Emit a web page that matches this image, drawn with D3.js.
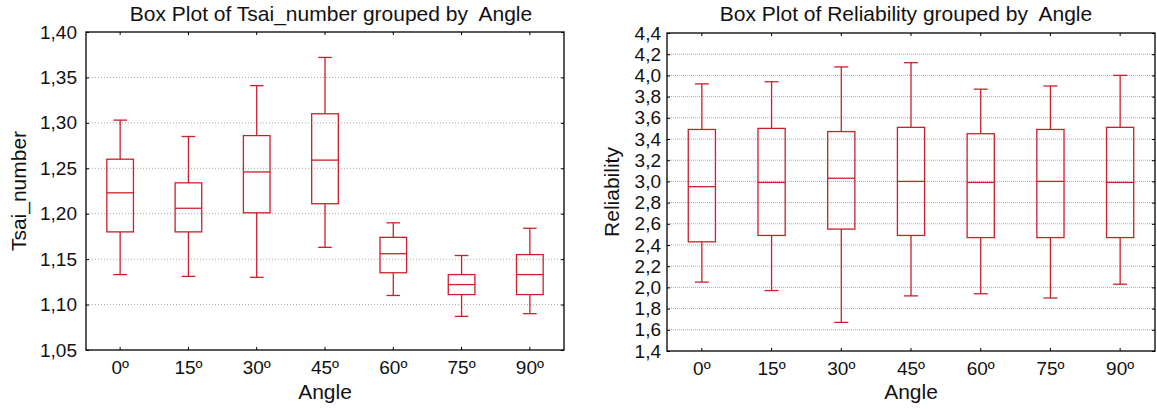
<!DOCTYPE html>
<html lang="en">
<head>
<meta charset="UTF-8">
<title>Box Plots by Angle</title>
<script src="https://cdnjs.cloudflare.com/ajax/libs/d3/7.8.5/d3.min.js"></script>
<style>
  body { margin: 0; background: #fff; font-family: "Liberation Sans", Arial, sans-serif; }
  svg text { fill: #111; white-space: pre; }
  .grid line { stroke: #a8a8a8; stroke-width: 1; }
  .frame { fill: none; stroke: #000; stroke-width: 1.3; }
  .box { fill: none; stroke: #cc1f2a; stroke-width: 1.3; }
</style>
</head>
<body>
<svg id="chart" width="1157" height="409"></svg>
<script>
// categories
const angles = ["0º", "15º", "30º", "45º", "60º", "75º", "90º"];

// Tsai_number: min, Q1, median, Q3, max per angle
const tsaiMin = [1.133, 1.131, 1.130, 1.163, 1.110, 1.087, 1.090];
const tsaiQ1  = [1.180, 1.180, 1.201, 1.211, 1.135, 1.111, 1.111];
const tsaiMed = [1.223, 1.206, 1.246, 1.259, 1.156, 1.122, 1.133];
const tsaiQ3  = [1.260, 1.234, 1.286, 1.310, 1.174, 1.133, 1.155];
const tsaiMax = [1.303, 1.285, 1.341, 1.372, 1.190, 1.154, 1.184];
const tsaiTicks = [1.05, 1.10, 1.15, 1.20, 1.25, 1.30, 1.35, 1.40];

// Reliability
const relMin = [2.05, 1.97, 1.67, 1.92, 1.94, 1.90, 2.03];
const relQ1  = [2.43, 2.49, 2.55, 2.49, 2.47, 2.47, 2.47];
const relMed = [2.95, 2.99, 3.03, 3.00, 2.99, 3.00, 2.99];
const relQ3  = [3.49, 3.50, 3.47, 3.51, 3.45, 3.49, 3.51];
const relMax = [3.92, 3.94, 4.08, 4.12, 3.87, 3.90, 4.00];
const relTicks = [1.4, 1.6, 1.8, 2.0, 2.2, 2.4, 2.6, 2.8, 3.0, 3.2, 3.4, 3.6, 3.8, 4.0, 4.2, 4.4];

const locale = d3.formatLocale({ decimal: ",", thousands: ".", grouping: [3], currency: ["", ""] });
const svg = d3.select("#chart");
const FONT = "Liberation Sans, Arial, sans-serif";

function boxPlot(opt) {
  const x = d3.scaleBand().domain(angles).range([opt.left, opt.right]).padding(0);
  const y = d3.scaleLinear().domain(opt.domain).range([opt.bottom, opt.top]);
  const fmt = locale.format(opt.fmt);
  const g = svg.append("g");

  // horizontal grid lines
  g.append("g").attr("class", "grid")
    .selectAll("line")
    .data(opt.ticks.slice(1, -1))
    .join("line")
    .attr("x1", opt.left).attr("x2", opt.right)
    .attr("y1", d => y(d)).attr("y2", d => y(d))
    .attr("stroke", opt.gridColor)
    .attr("stroke-dasharray", opt.dash);

  // axes with inward ticks
  g.append("g").attr("transform", `translate(${opt.left},0)`)
    .call(d3.axisLeft(y).tickValues(opt.ticks).tickFormat(fmt).tickSizeInner(-3).tickSizeOuter(0).tickPadding(opt.pad))
    .call(a => a.select(".domain").remove())
    .call(a => a.selectAll("text").style("font-size", "19px").style("font-family", FONT).attr("fill", "#111"));
  g.append("g").attr("transform", `translate(${opt.right},0)`)
    .call(d3.axisRight(y).tickValues(opt.ticks).tickSizeInner(-3).tickSizeOuter(0).tickFormat(""))
    .call(a => a.select(".domain").remove());
  g.append("g").attr("transform", `translate(0,${opt.bottom})`)
    .call(d3.axisBottom(x).tickSizeInner(-3).tickSizeOuter(0).tickPadding(11))
    .call(a => a.select(".domain").remove())
    .call(a => a.selectAll("text").style("font-size", "19px").style("font-family", FONT).attr("fill", "#111"));
  g.append("g").attr("transform", `translate(0,${opt.top})`)
    .call(d3.axisTop(x).tickSizeInner(-3).tickSizeOuter(0).tickFormat(""))
    .call(a => a.select(".domain").remove());

  g.append("rect").attr("class", "frame")
    .attr("x", opt.left).attr("y", opt.top)
    .attr("width", opt.right - opt.left).attr("height", opt.bottom - opt.top);

  // boxes
  const data = angles.map((a, i) => ({
    a, min: opt.min[i], q1: opt.q1[i], med: opt.med[i], q3: opt.q3[i], max: opt.max[i]
  }));
  const bw = x.bandwidth() * 0.39;
  const cw = x.bandwidth() * 0.2;
  const b = g.append("g").attr("class", "box")
    .selectAll("g").data(data).join("g")
    .attr("transform", d => `translate(${x(d.a) + x.bandwidth() / 2},0)`);
  b.append("line").attr("x1", 0).attr("x2", 0).attr("y1", d => y(d.max)).attr("y2", d => y(d.q3));
  b.append("line").attr("x1", 0).attr("x2", 0).attr("y1", d => y(d.q1)).attr("y2", d => y(d.min));
  b.append("line").attr("x1", -cw / 2).attr("x2", cw / 2).attr("y1", d => y(d.max)).attr("y2", d => y(d.max));
  b.append("line").attr("x1", -cw / 2).attr("x2", cw / 2).attr("y1", d => y(d.min)).attr("y2", d => y(d.min));
  b.append("rect").attr("x", -bw / 2).attr("width", bw)
    .attr("y", d => y(d.q3)).attr("height", d => y(d.q1) - y(d.q3));
  b.append("line").attr("x1", -bw / 2).attr("x2", bw / 2).attr("y1", d => y(d.med)).attr("y2", d => y(d.med));

  // titles
  const cx = (opt.left + opt.right) / 2;
  svg.append("text").attr("x", cx + opt.titleDx).attr("y", 21).attr("text-anchor", "middle")
    .style("font-size", "21px").text(opt.title);
  svg.append("text").attr("x", cx).attr("y", 399).attr("text-anchor", "middle")
    .style("font-size", "21px").text("Angle");
  svg.append("text").attr("transform", `translate(${opt.ylabX},${(opt.top + opt.bottom) / 2}) rotate(-90)`)
    .attr("text-anchor", "middle").style("font-size", "21px").text(opt.ylab);
}

boxPlot({
  left: 86, right: 564, top: 32, bottom: 350, pad: 9, titleDx: 6,
  domain: [1.05, 1.40], ticks: tsaiTicks, fmt: ".2f", dash: "1,2", gridColor: "#b4b4b4",
  min: tsaiMin, q1: tsaiQ1, med: tsaiMed, q3: tsaiQ3, max: tsaiMax,
  title: "Box Plot of Tsai_number grouped by  Angle", ylab: "Tsai_number", ylabX: 26
});
boxPlot({
  left: 667, right: 1155, top: 33, bottom: 351, pad: 6, titleDx: -5,
  domain: [1.4, 4.4], ticks: relTicks, fmt: ".1f", dash: "1,1", gridColor: "#9c9c9c",
  min: relMin, q1: relQ1, med: relMed, q3: relQ3, max: relMax,
  title: "Box Plot of Reliability grouped by  Angle", ylab: "Reliability", ylabX: 619
});
</script>
</body>
</html>
